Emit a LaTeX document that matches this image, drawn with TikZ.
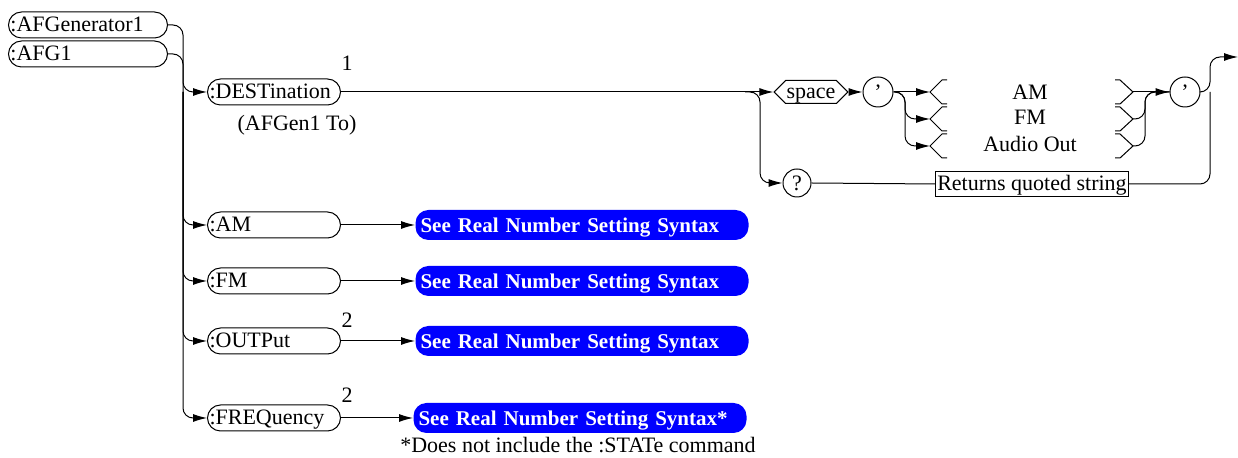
\documentclass[tikz,border=0pt]{standalone}
\usepackage{fontspec}
\setmainfont{Liberation Serif}
\usetikzlibrary{arrows.meta, positioning, shapes.symbols, calc}

\newcommand\lbrk[1]{\draw (#1) ++(17,-12) -- ++(-5,0) -- (#1) -- ++(12,12) -- ++(5,0);}
\newcommand\rbrk[1]{\draw (#1) ++(-18,-12) -- ++(5,0) -- (#1) -- ++(-13,12) -- ++(-5,0);}

\begin{document}
\begin{tikzpicture}[
    x=0.5pt, y=-0.5pt,
    >={Latex[length=7pt,width=4pt]},
    line width=0.5pt,
    font=\fontsize{11}{13}\selectfont,
    cmd/.style={draw, rounded corners=6.5pt, minimum height=13pt, inner ysep=0pt,
        inner xsep=1pt, text width=#1, align=left, anchor=west,
        text height=8.5pt, text depth=1.5pt},
    cmd/.default=64.5pt,
    realnum/.style={fill=blue, text=white, font=\fontsize{10.5}{12}\selectfont\bfseries,
        rounded corners=6.5pt, minimum height=15pt, inner ysep=0pt, inner xsep=2.5pt,
        text width=161.5pt, align=left, anchor=west,
        text height=8.5pt, text depth=1pt},
    token/.style={draw, circle, minimum size=15pt, inner sep=0pt},
    wire/.style={rounded corners=5pt},
]
    \useasboundingbox (0,0) rectangle (1238,458);

    % root keywords and the bus
    \node[cmd=77.5pt] (afgen) at (8,25) {:AFGenerator1};
    \node[cmd=77.5pt] (afg)   at (8,54) {:AFG1};
    \coordinate (bus) at (183,0);

    \node[cmd] (dest) at (207,92)  {:DESTination};
    \node[cmd] (am)   at (207,225) {:AM};
    \node[cmd] (fm)   at (207,281) {:FM};
    \node[cmd] (out)  at (207,341) {:OUTPut};
    \node[cmd] (freq) at (207,418) {:FREQuency};

    \node at (347,63)  {1};
    \node at (347,320) {2};
    \node at (347,395) {2};
    \node at (297,125) {(AFGen1 To)};

    \draw[->, wire] (afgen.east) -| (bus |- freq.west) -- (freq.west);
    \draw[->, wire] (afg.east) -| (bus |- dest.west) -- (dest.west);
    \foreach \n in {am, fm, out}
        \draw[->, wire] (bus |- dest.west) |- (\n.west);

    % real number settings
    \node[realnum] (amset)   at (415,225) {See Real Number Setting Syntax};
    \node[realnum] (fmset)   at (415,281) {See Real Number Setting Syntax};
    \node[realnum] (outset)  at (415,341) {See Real Number Setting Syntax};
    \node[realnum] (freqset) at (413,418) {See Real Number Setting Syntax*};
    \node at (578,445) {*Does not include the :STATe command};

    \path[->]
        (am)   edge (amset)
        (fm)   edge (fmset)
        (out)  edge (outset)
        (freq) edge (freqset)
    ;

    % destination parameter
    \node[draw, signal, signal to=west and east, minimum width=35pt, minimum height=11.5pt,
        inner sep=0.5pt, text height=8pt, text depth=1.5pt] (space) at (811,92) {space};
    \node[token] (q1) at (878,92) {'};
    \node[token, minimum size=14pt] (query) at (797,183) {?};
    \node[draw, minimum height=12.5pt, inner sep=1pt, minimum width=95pt,
        text height=8pt, text depth=1.5pt] (ret) at (1032,184) {Returns quoted string};
    \node[token] (q2) at (1185,92) {'};

    \coordinate (split) at (745,92);
    \coordinate (drop)  at (760,0);
    \coordinate (fork)  at (905,0);
    \coordinate (join)  at (1145,0);
    \coordinate (rail)  at (1210,0);
    \coordinate (exit)  at (1238,57);

    \coordinate (lam) at (930,92);
    \coordinate (lfm) at (930,119);
    \coordinate (lao) at (930,146);
    \coordinate (ram) at (1133,92);
    \coordinate (rfm) at (1133,119);
    \coordinate (rao) at (1133,146);

    \node at (1030,92)  {AM};
    \node at (1030,117) {FM};
    \node at (1030,144) {Audio Out};
    \lbrk{lam} \lbrk{lfm} \lbrk{lao}
    \rbrk{ram} \rbrk{rfm} \rbrk{rao}

    \draw[->] (dest.east) -- (space.west);
    \draw[->, wire] (split) -| (drop |- query) -- (query.west);
    \draw[->] (space.east) -- (q1.west);
    \draw[->] (q1.east) -- (lam);
    \draw[->, wire] (q1.east) -| (fork |- lfm) -- (lfm);
    \draw[->, wire] (q1.east) -| (fork |- lao) -- (lao);
    \draw (query.east) -- (ret.west);

    \draw[->] (ram) -- (q2.west);
    \draw[wire] (rfm) -| (join |- q2) -- (q2.west);
    \draw[wire] (rao) -| (join |- q2) -- (q2.west);
    \draw[->, wire] (q2.east) -| (rail |- exit) -- (exit);
    \draw[wire] (ret.east) -| (rail |- q2);
\end{tikzpicture}
\end{document}
